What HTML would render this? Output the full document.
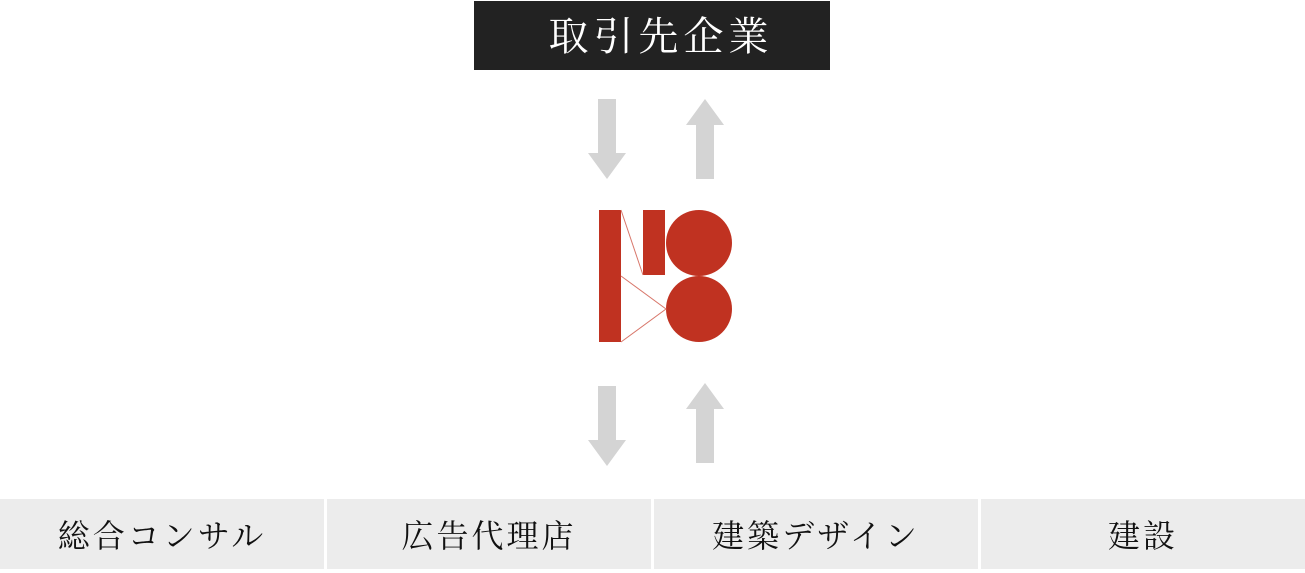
<!DOCTYPE html>
<html><head><meta charset="utf-8"><style>
body{margin:0;width:1305px;height:569px;background:#fff;position:relative;overflow:hidden;font-family:"Liberation Serif","Noto Serif CJK SC",serif}
.top{position:absolute;left:474px;top:1px;width:356px;height:69px;background:#222;color:#fff;font-size:40px;line-height:71px;text-align:center;letter-spacing:5px;text-indent:18px}
.c{position:absolute;top:499px;height:70px;background:#ececec;font-size:32px;line-height:74px;text-align:center;color:#111;letter-spacing:3px}
</style></head><body>
<div class="top">取引先企業</div>
<svg width="1305" height="569" style="position:absolute;left:0;top:0">
<g fill="#d4d4d4">
<polygon points="598,99 616,99 616,153 626,153 607,179 588,153 598,153"/>
<polygon points="705,99 724,125 714,125 714,179 696,179 696,125 686,125"/>
<polygon points="598,386 616,386 616,440 626,440 607,466 588,440 598,440"/>
<polygon points="705,383 724,409 714,409 714,463 696,463 696,409 686,409"/>
</g>
<g fill="#c03221">
<rect x="599" y="210" width="22" height="132"/>
<rect x="643" y="210" width="22" height="65"/>
<circle cx="699" cy="243" r="33"/>
<circle cx="699" cy="309" r="33"/>
</g>
<g stroke="#d8776b" stroke-width="1" fill="none">
<line x1="621" y1="210" x2="643" y2="275"/>
<polyline points="621,276 666,309 621,342"/>
</g>
</svg>
<div class="c" style="left:0;width:324px">総合コンサル</div>
<div class="c" style="left:327px;width:324px">広告代理店</div>
<div class="c" style="left:654px;width:324px">建築デザイン</div>
<div class="c" style="left:981px;width:324px">建設</div>
</body></html>
